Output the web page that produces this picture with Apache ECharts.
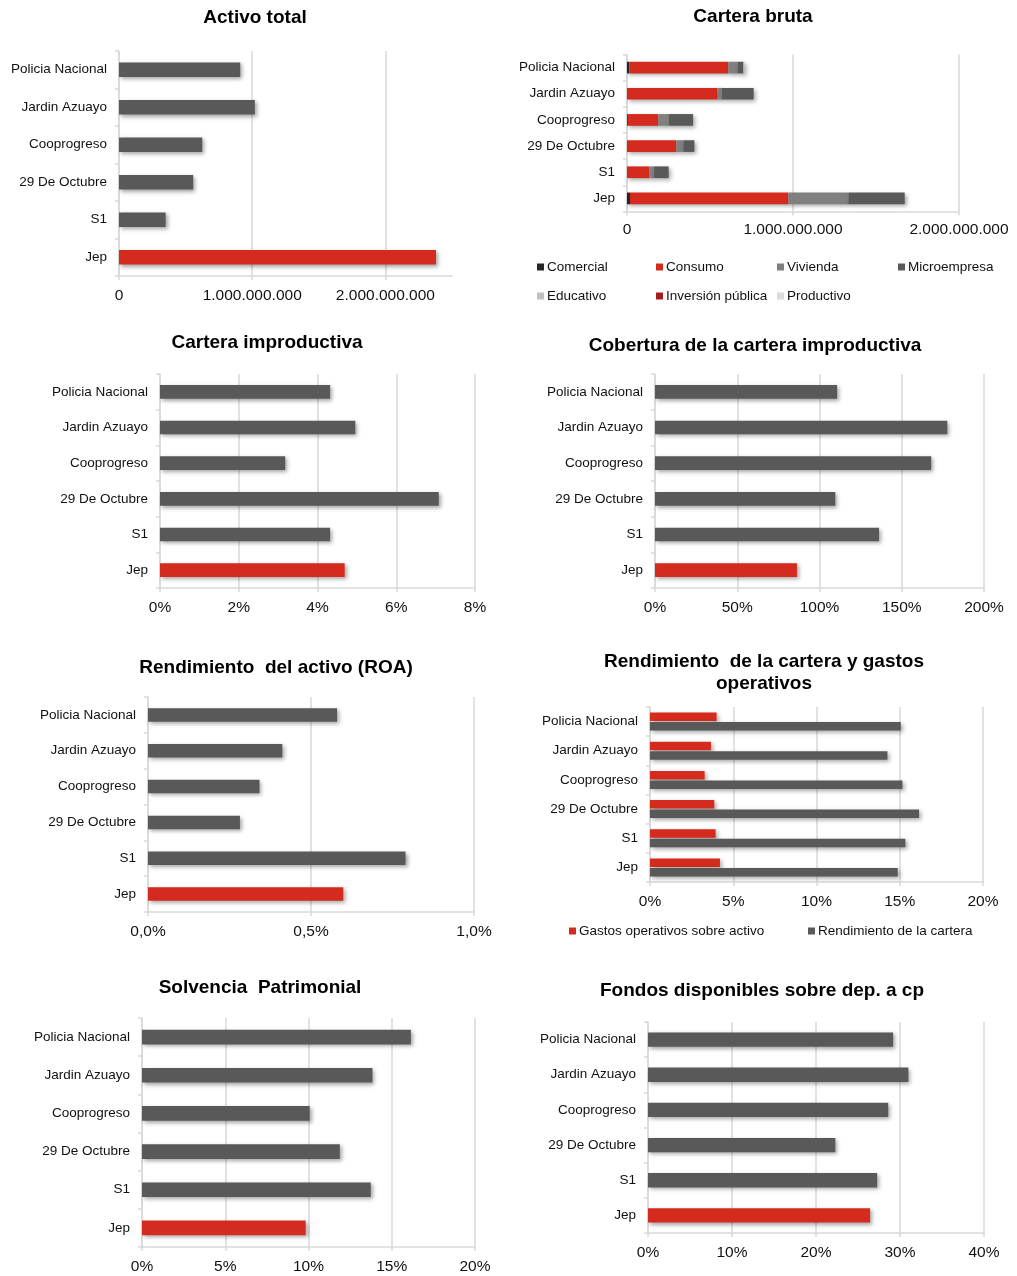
<!DOCTYPE html>
<html><head><meta charset="utf-8">
<script src="https://cdn.jsdelivr.net/npm/echarts@6/dist/echarts.min.js"></script>
<style>html,body{margin:0;padding:0;background:#fff}#c{width:1017px;height:1276px}</style>
</head><body><div id="c"></div>
<script>
// ---- DATA ----
const categories = ['Policia Nacional','Jardin Azuayo','Cooprogreso','29 De Octubre','S1','Jep'];
const activoTotal = [910e6, 1020e6, 625e6, 557e6, 350e6, 2380e6];
const carteraComercial = [14e6, 0, 5e6, 0, 0, 18e6];
const carteraConsumo = [596e6, 546e6, 184e6, 297e6, 135e6, 954e6];
const carteraVivienda = [55e6, 26e6, 64e6, 42e6, 28e6, 361e6];
const carteraMicroempresa = [36e6, 191e6, 145e6, 67e6, 88e6, 340e6];
const carteraEducativo = [6e6, 0, 0, 0, 0, 0];
const carteraInversion = [0, 0, 0, 0, 0, 0];
const carteraProductivo = [0, 0, 0, 0, 0, 0];
const carteraImproductiva = [4.32, 4.96, 3.18, 7.08, 4.32, 4.69];
const coberturaImproductiva = [110.7, 177.7, 167.9, 109.6, 136.2, 86.3];
const roa = [0.580, 0.412, 0.342, 0.282, 0.790, 0.599];
const gastosOperativos = [4.0, 3.66, 3.28, 3.86, 3.94, 4.2];
const rendimientoCartera = [15.06, 14.26, 15.16, 16.16, 15.34, 14.88];
const solvencia = [16.15, 13.84, 10.07, 11.88, 13.74, 9.83];
const fondosDisponibles = [29.18, 31.0, 28.6, 22.3, 27.28, 26.44];
const carteraLegend = ['Comercial','Consumo','Vivienda','Microempresa','Educativo','Inversión pública','Productivo'];
const rendLegend = ['Gastos operativos sobre activo','Rendimiento de la cartera'];

// ---- STYLE ----
const RED = '#d52b1e', GREY = '#595959', GRID = '#d9d9d9';
const FONT = 'Liberation Sans, Arial, sans-serif';
const shadow = {shadowBlur: 4, shadowColor: 'rgba(0,0,0,0.35)', shadowOffsetX: 2, shadowOffsetY: 2};
const fmtBig = v => String(Math.round(v)).replace(/\B(?=(\d{3})+(?!\d))/g, '.');
const fmtPct = v => Math.round(v) + '%';
const fmtPct1 = v => v.toFixed(1).replace('.', ',') + '%';

const panels = [
  {title:'Activo total', tx:255, ty:18, l:119, r:452, t:51, b:276, max:2.5e9, interval:1e9, fmt:fmtBig, bw:14.7, m:12},
  {title:'Cartera bruta', tx:753, ty:17, l:627, r:959, t:54.5, b:211.5, max:2e9, interval:1e9, fmt:fmtBig, bw:11.7, m:10.5},
  {title:'Cartera improductiva', tx:267, ty:343, l:160, r:475, t:374, b:588, max:8, interval:2, fmt:fmtPct, bw:13.7, m:12},
  {title:'Cobertura de la cartera improductiva', tx:755, ty:346, l:655, r:984, t:374, b:588, max:200, interval:50, fmt:fmtPct, bw:13.7, m:12},
  {title:'Rendimiento  del activo (ROA)', tx:276, ty:668, l:148, r:474, t:697, b:912, max:1.0, interval:0.5, fmt:fmtPct1, bw:13.5, m:12},
  {title:'Rendimiento  de la cartera y gastos\noperativos', tx:764, ty:673, l:650, r:983, t:707, b:882, max:20, interval:5, fmt:fmtPct, bw:8.5, m:12},
  {title:'Solvencia  Patrimonial', tx:260, ty:988, l:142, r:475, t:1018, b:1247, max:20, interval:5, fmt:fmtPct, bw:14.7, m:12},
  {title:'Fondos disponibles sobre dep. a cp', tx:762, ty:991, l:648, r:984, t:1022, b:1233, max:40, interval:10, fmt:fmtPct, bw:14.3, m:12}
];

const grid = [], xAxis = [], yAxis = [], series = [], graphic = [];
panels.forEach((p, i) => {
  grid.push({left:p.l, width:p.r - p.l, top:p.t, height:p.b - p.t, containLabel:false});
  xAxis.push({type:'value', gridIndex:i, min:0, max:p.max, interval:p.interval,
    axisLine:{show:true, lineStyle:{color:GRID, width:1.5}},
    axisTick:{show:true, length:4, lineStyle:{color:GRID, width:1.5}},
    splitLine:{show:true, showMaxLine: i !== 0, lineStyle:{color:GRID, width:1.5}},
    axisLabel:{show:true, showMaxLabel: i !== 0, formatter:p.fmt, color:'#111', fontSize:15.5, fontFamily:FONT, margin:p.m}});
  yAxis.push({type:'category', gridIndex:i, data:categories, inverse:true,
    axisLine:{show:true, lineStyle:{color:GRID, width:1.5}},
    axisTick:{show:true, length:4, lineStyle:{color:GRID, width:1.5}},
    axisLabel:{color:'#111', fontSize:13.5, fontFamily:FONT, margin:12}});
  graphic.push({type:'text', x:p.tx, y:p.ty, style:{text:p.title, fill:'#000', font:'bold 19px ' + FONT, textAlign:'center', textVerticalAlign:'middle', lineHeight:22}});
});

function simple(idx, values) {
  series.push({type:'bar', xAxisIndex:idx, yAxisIndex:idx, barWidth:panels[idx].bw,
    data: values.map((v, k) => ({value:v, itemStyle:{color: categories[k] === 'Jep' ? RED : GREY}})),
    itemStyle:Object.assign({}, shadow), emphasis:{disabled:true}});
}
simple(0, activoTotal);
const stackDefs = [
  [carteraLegend[0], carteraComercial, '#262626'],
  [carteraLegend[1], carteraConsumo, RED],
  [carteraLegend[2], carteraVivienda, '#808080'],
  [carteraLegend[3], carteraMicroempresa, GREY],
  [carteraLegend[4], carteraEducativo, '#bfbfbf'],
  [carteraLegend[5], carteraInversion, '#a6201a'],
  [carteraLegend[6], carteraProductivo, '#d9d9d9']
];
stackDefs.forEach(([name, vals, col]) => {
  series.push({type:'bar', name, stack:'cb', xAxisIndex:1, yAxisIndex:1, barWidth:panels[1].bw,
    data: vals, itemStyle:Object.assign({color:col}, shadow), emphasis:{disabled:true}});
});
simple(2, carteraImproductiva);
simple(3, coberturaImproductiva);
simple(4, roa);
series.push({type:'bar', name:rendLegend[0], xAxisIndex:5, yAxisIndex:5, barWidth:8.5, barGap:'12%',
  data:gastosOperativos, itemStyle:Object.assign({color:RED}, shadow), emphasis:{disabled:true}});
series.push({type:'bar', name:rendLegend[1], xAxisIndex:5, yAxisIndex:5, barWidth:8.5, barGap:'12%',
  data:rendimientoCartera, itemStyle:Object.assign({color:GREY}, shadow), emphasis:{disabled:true}});
simple(6, solvencia);
simple(7, fondosDisponibles);

const legText = {fontSize:13.5, color:'#111', fontFamily:FONT, padding:[0,0,0,-2]};
const legPos = [[537,260],[656,260],[777,260],[898,260],[537,289],[656,289],[777,289]];
const legend = carteraLegend.map((n, k) => ({data:[n], left:legPos[k][0], top:legPos[k][1], itemWidth:7, itemHeight:7,
  icon:'rect', selectedMode:false, textStyle:legText, padding:0}));
legend.push({data:[rendLegend[0]], left:569, top:924, itemWidth:7, itemHeight:7, icon:'rect', selectedMode:false, padding:0, textStyle:legText});
legend.push({data:[rendLegend[1]], left:808, top:924, itemWidth:7, itemHeight:7, icon:'rect', selectedMode:false, padding:0, textStyle:legText});

const chart = echarts.init(document.getElementById('c'), null, {renderer:'canvas'});
chart.setOption({backgroundColor:'#fff', animation:false, textStyle:{fontFamily:FONT},
  grid, xAxis, yAxis, series, legend, graphic});
</script></body></html>
